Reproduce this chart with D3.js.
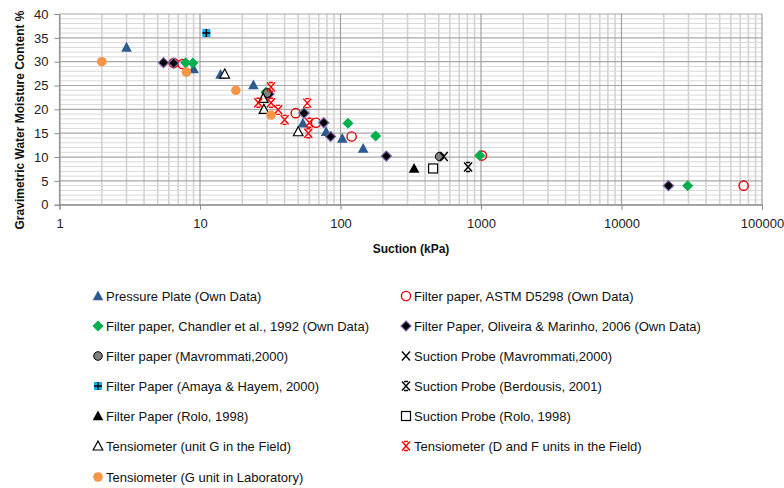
<!DOCTYPE html>
<html>
<head>
<meta charset="utf-8">
<script src="https://cdn.jsdelivr.net/npm/d3@7"></script>
<style>
  body { margin: 0; background: #fff; }
  text { font-family: "Liberation Sans", Arial, sans-serif; }
</style>
</head>
<body>
<svg id="chart" width="784" height="488"></svg>
<script>
// Each point: [suction (kPa), gravimetric water moisture content (%)]
const pressurePlate = [[3, 33], [9, 28.5], [14, 27.3], [24, 25.1], [54, 17.1], [79, 15.3], [103, 13.9], [145, 11.8]];
const astmFilterPaper = [[6.5, 29.7], [7.5, 29.5], [30, 23.4], [48, 19.2], [67, 17.2], [120, 14.3], [1015, 10.3], [74000, 4]];
const chandlerFilterPaper = [[7.9, 29.8], [8.9, 29.7], [29.5, 23.6], [55, 19.3], [113, 17.1], [178, 14.4], [980, 10.3], [29600, 4]];
const oliveiraFilterPaper = [[5.5, 29.8], [6.5, 29.7], [31, 23.2], [55, 19.2], [76, 17.2], [85, 14.3], [212, 10.2], [21600, 4]];
const mavrommatiFilterPaper = [[30, 23.4], [508, 10.1]];
const mavrommatiSuctionProbe = [[543, 10.1]];
const amayaFilterPaper = [[11.1, 36]];
const berdousisSuctionProbe = [[809, 7.9]];
const roloFilterPaper = [[334, 7.6]];
const roloSuctionProbe = [[456, 7.6]];
const tensiometerGField = [[15, 27.4], [28.2, 22.3], [28.5, 20], [50, 15.3]];
const tensiometerDFField = [[26, 21.4], [32, 24.7], [32, 21.4], [36, 19.9], [40, 17.8], [58, 21.3], [60, 17.2], [59, 15]];
const tensiometerGLab = [[2, 30], [8, 27.8], [18, 24], [32, 18.8]];

const seriesNames = [
  "Pressure Plate (Own Data)",
  "Filter paper, ASTM D5298 (Own Data)",
  "Filter paper, Chandler et al., 1992 (Own Data)",
  "Filter Paper, Oliveira & Marinho, 2006 (Own Data)",
  "Filter paper (Mavrommati,2000)",
  "Suction Probe (Mavrommati,2000)",
  "Filter Paper (Amaya & Hayem, 2000)",
  "Suction Probe (Berdousis, 2001)",
  "Filter Paper (Rolo, 1998)",
  "Suction Probe (Rolo, 1998)",
  "Tensiometer (unit G in the Field)",
  "Tensiometer (D and F units in the Field)",
  "Tensiometer (G unit in Laboratory)"
];
const seriesData = [
  pressurePlate, astmFilterPaper, chandlerFilterPaper, oliveiraFilterPaper,
  mavrommatiFilterPaper, mavrommatiSuctionProbe, amayaFilterPaper, berdousisSuctionProbe,
  roloFilterPaper, roloSuctionProbe, tensiometerGField, tensiometerDFField, tensiometerGLab
];
const seriesMarkers = [
  "triangleBlue", "circleRed", "diamondGreen", "diamondDark",
  "circleGrey", "cross", "squarePlus", "star",
  "triangleBlack", "squareOpen", "triangleOpen", "starRed", "circleOrange"
];

const xTickValues = [1, 10, 100, 1000, 10000, 100000];
const yTickValues = [0, 5, 10, 15, 20, 25, 30, 35, 40];

const svg = d3.select("#chart");
const plot = { left: 59.5, right: 762, top: 14, bottom: 204.7 };

const x = d3.scaleLog().domain([1, 100000]).range([plot.left, plot.right]);
const y = d3.scaleLinear().domain([0, 40]).range([plot.bottom, plot.top]);

// gridlines
const grid = svg.append("g");
const minorX = [];
for (let d = 1; d < 100000; d *= 10) for (let k = 2; k <= 9; k++) minorX.push(d * k);
grid.selectAll(".vminor").data(minorX).join("line")
  .attr("x1", d => x(d)).attr("x2", d => x(d))
  .attr("y1", plot.top).attr("y2", plot.bottom)
  .attr("stroke", "#d2d2d2").attr("stroke-width", 1.6);
const minorY = d3.range(0, 41).filter(v => v % 5 !== 0);
grid.selectAll(".hminor").data(minorY).join("line")
  .attr("x1", plot.left).attr("x2", plot.right)
  .attr("y1", d => y(d)).attr("y2", d => y(d))
  .attr("stroke", "#d9d9d9").attr("stroke-width", 1);
grid.selectAll(".hmajor").data(yTickValues).join("line")
  .attr("x1", plot.left).attr("x2", plot.right)
  .attr("y1", d => y(d)).attr("y2", d => y(d))
  .attr("stroke", "#a8a8a8").attr("stroke-width", 1.2);
grid.selectAll(".vmajor").data(xTickValues).join("line")
  .attr("x1", d => x(d)).attr("x2", d => x(d))
  .attr("y1", plot.top).attr("y2", plot.bottom)
  .attr("stroke", "#a0a0a0").attr("stroke-width", 1.2);

// axes
const xAxis = d3.axisBottom(x).tickValues(xTickValues).tickFormat(d3.format("d")).tickSizeOuter(0).tickSize(5).tickPadding(9);
const yAxis = d3.axisLeft(y).tickValues(yTickValues).tickSizeOuter(0).tickSize(5).tickPadding(6);
const gx = svg.append("g").attr("transform", `translate(0,${plot.bottom})`).call(xAxis);
const gy = svg.append("g").attr("transform", `translate(${plot.left},0)`).call(yAxis);
[gx, gy].forEach(g => {
  g.select(".domain").attr("stroke", "#8a8a8a");
  g.selectAll(".tick line").attr("stroke", "#8a8a8a");
  g.selectAll(".tick text").attr("fill", "#222").style("font-size", "13px")
    .style("font-family", "'Liberation Sans', Arial, sans-serif");
});

// axis titles
svg.append("text").attr("x", 411).attr("y", 253).attr("text-anchor", "middle")
  .style("font-size", "12px").style("font-weight", "bold").attr("fill", "#111")
  .text("Suction (kPa)");
svg.append("text").attr("transform", "translate(24,120) rotate(-90)").attr("text-anchor", "middle")
  .style("font-size", "12px").style("font-weight", "bold").attr("fill", "#111")
  .text("Gravimetric Water Moisture Content %");

// marker drawing
function drawMarker(g, type) {
  switch (type) {
    case "triangleBlue":
      g.append("path").attr("d", "M0,-5.5L5.3,4.3L-5.3,4.3Z").attr("fill", "#2b5b8f"); break;
    case "triangleBlack":
      g.append("path").attr("d", "M0,-5.5L5.3,4.3L-5.3,4.3Z").attr("fill", "#000"); break;
    case "triangleOpen":
      g.append("path").attr("d", "M0,-5L4.8,4L-4.8,4Z").attr("fill", "#fff").attr("stroke", "#000").attr("stroke-width", 1.2); break;
    case "circleRed":
      g.append("circle").attr("r", 4.6).attr("fill", "none").attr("stroke", "#e0000c").attr("stroke-width", 1.4); break;
    case "diamondGreen":
      g.append("path").attr("d", "M0,-5.5L5.5,0L0,5.5L-5.5,0Z").attr("fill", "#00b050"); break;
    case "diamondDark":
      g.append("path").attr("d", "M0,-5L5,0L0,5L-5,0Z").attr("fill", "#000").attr("stroke", "#7a5fa8").attr("stroke-width", 1.2); break;
    case "circleGrey":
      g.append("circle").attr("r", 4.3).attr("fill", "#808080").attr("stroke", "#000").attr("stroke-width", 1); break;
    case "circleOrange":
      g.append("circle").attr("r", 4.8).attr("fill", "#f79646"); break;
    case "squareOpen":
      g.append("rect").attr("x", -4.5).attr("y", -4.5).attr("width", 9).attr("height", 9)
        .attr("fill", "#fff").attr("stroke", "#000").attr("stroke-width", 1.2); break;
    case "squarePlus":
      g.append("rect").attr("x", -4).attr("y", -4).attr("width", 8).attr("height", 8).attr("fill", "#00b0f0");
      g.append("path").attr("d", "M0,-4V4M-4,0H4").attr("stroke", "#000").attr("stroke-width", 1.4); break;
    case "cross":
      g.append("path").attr("d", "M-4,-4.5L4,4.5M4,-4.5L-4,4.5").attr("stroke", "#000").attr("stroke-width", 1.4).attr("fill", "none"); break;
    case "star":
      g.append("path").attr("d", "M-4,-4.5L4,4.5M4,-4.5L-4,4.5M-2,-4.5H2M-2,4.5H2")
        .attr("stroke", "#000").attr("stroke-width", 1.4).attr("fill", "none"); break;
    case "starRed":
      g.append("path").attr("d", "M-4,-4.5L4,4.5M4,-4.5L-4,4.5M-2,-4.5H2M-2,4.5H2")
        .attr("stroke", "#ff0000").attr("stroke-width", 1.4).attr("fill", "none"); break;
  }
}

// data points, in series order
seriesData.forEach((data, i) => {
  const g = svg.append("g");
  g.selectAll("g").data(data).join("g")
    .attr("transform", d => `translate(${x(d[0])},${y(d[1])})`)
    .each(function () { drawMarker(d3.select(this), seriesMarkers[i]); });
});

// legend: two columns, row-major
const legend = svg.append("g");
const colMarkerX = [98, 406];
const rowY = [296, 326, 356, 386, 416, 446, 477];
seriesNames.forEach((name, i) => {
  const col = i % 2, row = Math.floor(i / 2);
  const item = legend.append("g").attr("transform", `translate(${colMarkerX[col]},${rowY[row]})`);
  drawMarker(item.append("g"), seriesMarkers[i]);
  item.append("text").attr("x", 8).attr("y", 0).attr("dy", "0.35em")
    .style("font-size", "13px").attr("fill", "#111").text(name);
});
</script>
</body>
</html>
